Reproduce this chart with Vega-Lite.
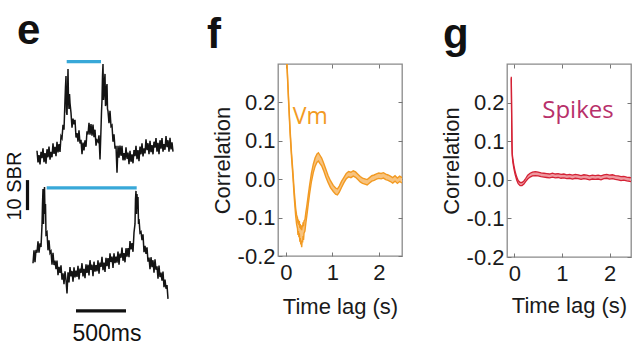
{
  "$schema": "https://vega.github.io/schema/vega-lite/v6.json",
  "padding": {"left": 0, "top": 9, "right": 0, "bottom": 0},
  "background": "white",
  "bounds": "flush",
  "spacing": 105,
  "config": {"font": "Liberation Sans"},
  "datasets": {
    "traces": [
      {"trace":"a","t":370,"v":61.1},{"trace":"a","t":380,"v":57.2},{"trace":"a","t":390,"v":59.6},{"trace":"a","t":400,"v":56.5},{"trace":"a","t":410,"v":60.7},{"trace":"a","t":420,"v":58.6},{"trace":"a","t":430,"v":61.9},{"trace":"a","t":440,"v":57.3},{"trace":"a","t":450,"v":60.3},{"trace":"a","t":460,"v":56.8},{"trace":"a","t":470,"v":61.6},{"trace":"a","t":480,"v":58.9},{"trace":"a","t":490,"v":62.5},{"trace":"a","t":500,"v":58.1},{"trace":"a","t":510,"v":60.7},{"trace":"a","t":520,"v":58.9},{"trace":"a","t":530,"v":63.6},{"trace":"a","t":540,"v":60.0},{"trace":"a","t":550,"v":62.4},{"trace":"a","t":560,"v":59.3},{"trace":"a","t":570,"v":64.1},{"trace":"a","t":580,"v":60.5},{"trace":"a","t":590,"v":63.3},{"trace":"a","t":600,"v":60.7},{"trace":"a","t":610,"v":65.9},{"trace":"a","t":620,"v":65.2},{"trace":"a","t":630,"v":69.7},{"trace":"a","t":640,"v":68.1},{"trace":"a","t":650,"v":78},{"trace":"a","t":655,"v":82.5},{"trace":"a","t":660,"v":86},{"trace":"a","t":665,"v":74},{"trace":"a","t":670,"v":73},{"trace":"a","t":675,"v":80},{"trace":"a","t":680,"v":88.3},{"trace":"a","t":685,"v":78},{"trace":"a","t":690,"v":75},{"trace":"a","t":695,"v":80},{"trace":"a","t":700,"v":77},{"trace":"a","t":710,"v":73.7},{"trace":"a","t":720,"v":68.8},{"trace":"a","t":730,"v":71.8},{"trace":"a","t":740,"v":69.9},{"trace":"a","t":750,"v":71.4},{"trace":"a","t":760,"v":65.5},{"trace":"a","t":770,"v":67.0},{"trace":"a","t":780,"v":64.1},{"trace":"a","t":790,"v":67.9},{"trace":"a","t":800,"v":63.5},{"trace":"a","t":810,"v":64.7},{"trace":"a","t":820,"v":59.9},{"trace":"a","t":830,"v":63.8},{"trace":"a","t":840,"v":61.2},{"trace":"a","t":850,"v":64.6},{"trace":"a","t":860,"v":62.4},{"trace":"a","t":870,"v":67.6},{"trace":"a","t":880,"v":66.5},{"trace":"a","t":890,"v":70.4},{"trace":"a","t":900,"v":66.4},{"trace":"a","t":910,"v":70.0},{"trace":"a","t":920,"v":66.1},{"trace":"a","t":930,"v":69.8},{"trace":"a","t":940,"v":65.6},{"trace":"a","t":950,"v":68.1},{"trace":"a","t":960,"v":62.8},{"trace":"a","t":970,"v":64.6},{"trace":"a","t":980,"v":64.1},{"trace":"a","t":990,"v":66.2},{"trace":"a","t":1000,"v":58.2},{"trace":"a","t":1010,"v":68.3},{"trace":"a","t":1015,"v":74},{"trace":"a","t":1020,"v":78},{"trace":"a","t":1025,"v":86},{"trace":"a","t":1030,"v":90},{"trace":"a","t":1035,"v":78},{"trace":"a","t":1040,"v":80},{"trace":"a","t":1045,"v":84},{"trace":"a","t":1050,"v":86.7},{"trace":"a","t":1055,"v":76},{"trace":"a","t":1060,"v":76.7},{"trace":"a","t":1065,"v":82},{"trace":"a","t":1070,"v":83.3},{"trace":"a","t":1075,"v":75},{"trace":"a","t":1080,"v":74.3},{"trace":"a","t":1090,"v":70.3},{"trace":"a","t":1100,"v":74.4},{"trace":"a","t":1110,"v":69.2},{"trace":"a","t":1120,"v":69.6},{"trace":"a","t":1130,"v":64.1},{"trace":"a","t":1140,"v":66.6},{"trace":"a","t":1150,"v":61.8},{"trace":"a","t":1160,"v":62.7},{"trace":"a","t":1170,"v":53.8},{"trace":"a","t":1180,"v":62.7},{"trace":"a","t":1190,"v":58.8},{"trace":"a","t":1200,"v":62.8},{"trace":"a","t":1210,"v":59.4},{"trace":"a","t":1220,"v":62.7},{"trace":"a","t":1230,"v":57.9},{"trace":"a","t":1240,"v":60.3},{"trace":"a","t":1250,"v":57.9},{"trace":"a","t":1260,"v":62.2},{"trace":"a","t":1270,"v":58.4},{"trace":"a","t":1280,"v":60.5},{"trace":"a","t":1290,"v":56.6},{"trace":"a","t":1300,"v":61.1},{"trace":"a","t":1310,"v":57.4},{"trace":"a","t":1320,"v":59.9},{"trace":"a","t":1330,"v":56.9},{"trace":"a","t":1340,"v":61.3},{"trace":"a","t":1350,"v":59.3},{"trace":"a","t":1360,"v":62.7},{"trace":"a","t":1370,"v":58.3},{"trace":"a","t":1380,"v":61.3},{"trace":"a","t":1390,"v":57.6},{"trace":"a","t":1400,"v":62.5},{"trace":"a","t":1410,"v":59.9},{"trace":"a","t":1420,"v":63.6},{"trace":"a","t":1430,"v":59.2},{"trace":"a","t":1440,"v":61.9},{"trace":"a","t":1450,"v":60.2},{"trace":"a","t":1460,"v":64.9},{"trace":"a","t":1470,"v":61.3},{"trace":"a","t":1480,"v":63.6},{"trace":"a","t":1490,"v":59.9},{"trace":"a","t":1500,"v":64.4},{"trace":"a","t":1510,"v":60.6},{"trace":"a","t":1520,"v":63.0},{"trace":"a","t":1530,"v":59.9},{"trace":"a","t":1540,"v":64.1},{"trace":"a","t":1550,"v":62.1},{"trace":"a","t":1560,"v":65.3},{"trace":"a","t":1570,"v":60.8},{"trace":"a","t":1580,"v":63.7},{"trace":"a","t":1590,"v":59.9},{"trace":"a","t":1600,"v":64.6},{"trace":"a","t":1610,"v":61.8},{"trace":"a","t":1620,"v":65.3},{"trace":"a","t":1630,"v":60.8},{"trace":"a","t":1640,"v":63.3},{"trace":"a","t":1650,"v":61.4},{"trace":"a","t":1660,"v":66.0},{"trace":"a","t":1670,"v":62.3},{"trace":"a","t":1680,"v":64.6},{"trace":"a","t":1690,"v":60.8},{"trace":"a","t":1700,"v":65.4},{"trace":"a","t":1710,"v":61.5},{"trace":"a","t":1720,"v":63.9},{"trace":"a","t":1730,"v":60.8},
      {"trace":"b","t":330,"v":23.6},{"trace":"b","t":340,"v":27.9},{"trace":"b","t":350,"v":23.9},{"trace":"b","t":360,"v":28.1},{"trace":"b","t":370,"v":27.1},{"trace":"b","t":380,"v":30.9},{"trace":"b","t":390,"v":27.1},{"trace":"b","t":400,"v":30.2},{"trace":"b","t":410,"v":29.0},{"trace":"b","t":420,"v":36.2},{"trace":"b","t":425,"v":43.3},{"trace":"b","t":430,"v":48.3},{"trace":"b","t":435,"v":36.7},{"trace":"b","t":440,"v":45},{"trace":"b","t":445,"v":49},{"trace":"b","t":450,"v":40},{"trace":"b","t":455,"v":43.3},{"trace":"b","t":460,"v":33.3},{"trace":"b","t":470,"v":33.9},{"trace":"b","t":480,"v":27.9},{"trace":"b","t":490,"v":31.2},{"trace":"b","t":500,"v":27.0},{"trace":"b","t":510,"v":27.6},{"trace":"b","t":520,"v":23.1},{"trace":"b","t":530,"v":27.1},{"trace":"b","t":540,"v":23.0},{"trace":"b","t":550,"v":24.5},{"trace":"b","t":560,"v":21.6},{"trace":"b","t":570,"v":24.5},{"trace":"b","t":580,"v":19.6},{"trace":"b","t":590,"v":22.4},{"trace":"b","t":600,"v":20.4},{"trace":"b","t":610,"v":22.9},{"trace":"b","t":620,"v":18.1},{"trace":"b","t":630,"v":20.2},{"trace":"b","t":640,"v":16.6},{"trace":"b","t":650,"v":20.9},{"trace":"b","t":660,"v":18.0},{"trace":"b","t":670,"v":13.5},{"trace":"b","t":680,"v":20.6},{"trace":"b","t":690,"v":17.2},{"trace":"b","t":700,"v":22.3},{"trace":"b","t":710,"v":19.2},{"trace":"b","t":720,"v":21.0},{"trace":"b","t":730,"v":17.4},{"trace":"b","t":740,"v":22.2},{"trace":"b","t":750,"v":18.9},{"trace":"b","t":760,"v":21.1},{"trace":"b","t":770,"v":19.0},{"trace":"b","t":780,"v":22.7},{"trace":"b","t":790,"v":18.2},{"trace":"b","t":800,"v":21.8},{"trace":"b","t":810,"v":20.4},{"trace":"b","t":820,"v":23.6},{"trace":"b","t":830,"v":19.2},{"trace":"b","t":840,"v":21.7},{"trace":"b","t":850,"v":18.6},{"trace":"b","t":860,"v":23.2},{"trace":"b","t":870,"v":20.4},{"trace":"b","t":880,"v":23.1},{"trace":"b","t":890,"v":19.5},{"trace":"b","t":900,"v":24.6},{"trace":"b","t":910,"v":21.4},{"trace":"b","t":920,"v":23.1},{"trace":"b","t":930,"v":19.3},{"trace":"b","t":940,"v":24.1},{"trace":"b","t":950,"v":20.8},{"trace":"b","t":960,"v":23.0},{"trace":"b","t":970,"v":20.9},{"trace":"b","t":980,"v":24.6},{"trace":"b","t":990,"v":20.1},{"trace":"b","t":1000,"v":23.8},{"trace":"b","t":1010,"v":22.4},{"trace":"b","t":1020,"v":25.7},{"trace":"b","t":1030,"v":21.3},{"trace":"b","t":1040,"v":23.8},{"trace":"b","t":1050,"v":20.7},{"trace":"b","t":1060,"v":25.4},{"trace":"b","t":1070,"v":22.6},{"trace":"b","t":1080,"v":25.3},{"trace":"b","t":1090,"v":21.7},{"trace":"b","t":1100,"v":26.9},{"trace":"b","t":1110,"v":24.0},{"trace":"b","t":1120,"v":25.8},{"trace":"b","t":1130,"v":22.0},{"trace":"b","t":1140,"v":26.9},{"trace":"b","t":1150,"v":23.6},{"trace":"b","t":1160,"v":25.8},{"trace":"b","t":1170,"v":23.8},{"trace":"b","t":1180,"v":27.5},{"trace":"b","t":1190,"v":23.1},{"trace":"b","t":1200,"v":26.8},{"trace":"b","t":1210,"v":25.4},{"trace":"b","t":1220,"v":28.8},{"trace":"b","t":1230,"v":24.4},{"trace":"b","t":1240,"v":27.0},{"trace":"b","t":1250,"v":23.9},{"trace":"b","t":1260,"v":28.6},{"trace":"b","t":1270,"v":25.8},{"trace":"b","t":1280,"v":28.6},{"trace":"b","t":1290,"v":25.6},{"trace":"b","t":1300,"v":31.0},{"trace":"b","t":1310,"v":28.2},{"trace":"b","t":1320,"v":30.3},{"trace":"b","t":1330,"v":27.4},{"trace":"b","t":1340,"v":33.8},{"trace":"b","t":1350,"v":36.7},{"trace":"b","t":1355,"v":45},{"trace":"b","t":1360,"v":47.7},{"trace":"b","t":1365,"v":40},{"trace":"b","t":1370,"v":46.7},{"trace":"b","t":1375,"v":41.7},{"trace":"b","t":1380,"v":45.7},{"trace":"b","t":1385,"v":36.7},{"trace":"b","t":1390,"v":38.3},{"trace":"b","t":1400,"v":33.7},{"trace":"b","t":1410,"v":34.1},{"trace":"b","t":1420,"v":31.3},{"trace":"b","t":1430,"v":33.2},{"trace":"b","t":1440,"v":27.3},{"trace":"b","t":1450,"v":29.4},{"trace":"b","t":1460,"v":26.7},{"trace":"b","t":1470,"v":28.9},{"trace":"b","t":1480,"v":24.1},{"trace":"b","t":1490,"v":25.5},{"trace":"b","t":1500,"v":21.6},{"trace":"b","t":1510,"v":25.6},{"trace":"b","t":1520,"v":22.3},{"trace":"b","t":1530,"v":24.6},{"trace":"b","t":1540,"v":20.4},{"trace":"b","t":1550,"v":24.9},{"trace":"b","t":1560,"v":21.4},{"trace":"b","t":1570,"v":22.6},{"trace":"b","t":1580,"v":18.4},{"trace":"b","t":1590,"v":22.8},{"trace":"b","t":1600,"v":19.0},{"trace":"b","t":1610,"v":20.5},{"trace":"b","t":1620,"v":17.8},{"trace":"b","t":1630,"v":20.8},{"trace":"b","t":1640,"v":15.6},{"trace":"b","t":1650,"v":18.1},{"trace":"b","t":1660,"v":15.1},{"trace":"b","t":1670,"v":16.3},{"trace":"b","t":1680,"v":11.7}
    ],
    "bars": [
      {"kind":"stim","t1":667,"t2":1010,"v1":90.8,"v2":90.8},
      {"kind":"stim","t1":467,"t2":1367,"v1":48.7,"v2":48.7},
      {"kind":"scale","t1":760,"t2":1260,"v1":7.7,"v2":7.7},
      {"kind":"scale","t1":275,"t2":275,"v1":41.3,"v2":51.3}
    ],
    "vm": [
      {"t":0.00,"lo":0.356,"hi":0.364},{"t":0.03,"lo":0.276,"hi":0.284},{"t":0.06,"lo":0.196,"hi":0.204},{"t":0.09,"lo":0.12,"hi":0.13},{"t":0.12,"lo":0.06,"hi":0.07},{"t":0.15,"lo":0.009,"hi":0.021},{"t":0.18,"lo":-0.048,"hi":-0.032},{"t":0.21,"lo":-0.095,"hi":-0.075},{"t":0.23,"lo":-0.117,"hi":-0.093},{"t":0.25,"lo":-0.129,"hi":-0.101},{"t":0.26,"lo":-0.145,"hi":-0.115},{"t":0.27,"lo":-0.135,"hi":-0.105},{"t":0.28,"lo":-0.151,"hi":-0.119},{"t":0.29,"lo":-0.141,"hi":-0.109},{"t":0.30,"lo":-0.163,"hi":-0.127},{"t":0.31,"lo":-0.153,"hi":-0.117},{"t":0.32,"lo":-0.17,"hi":-0.13},{"t":0.33,"lo":-0.16,"hi":-0.12},{"t":0.34,"lo":-0.177,"hi":-0.133},{"t":0.35,"lo":-0.16,"hi":-0.12},{"t":0.36,"lo":-0.165,"hi":-0.125},{"t":0.37,"lo":-0.148,"hi":-0.112},{"t":0.38,"lo":-0.158,"hi":-0.122},{"t":0.39,"lo":-0.141,"hi":-0.109},{"t":0.41,"lo":-0.135,"hi":-0.105},{"t":0.43,"lo":-0.114,"hi":-0.086},{"t":0.45,"lo":-0.096,"hi":-0.07},{"t":0.48,"lo":-0.067,"hi":-0.043},{"t":0.51,"lo":-0.038,"hi":-0.016},{"t":0.55,"lo":-0.006,"hi":0.016},{"t":0.59,"lo":0.017,"hi":0.039},{"t":0.63,"lo":0.034,"hi":0.056},{"t":0.67,"lo":0.044,"hi":0.066},{"t":0.70,"lo":0.047,"hi":0.069},{"t":0.73,"lo":0.041,"hi":0.063},{"t":0.77,"lo":0.035,"hi":0.055},{"t":0.81,"lo":0.023,"hi":0.043},{"t":0.86,"lo":0.006,"hi":0.026},{"t":0.91,"lo":-0.009,"hi":0.009},{"t":0.96,"lo":-0.022,"hi":-0.004},{"t":1.02,"lo":-0.032,"hi":-0.016},{"t":1.07,"lo":-0.039,"hi":-0.023},{"t":1.11,"lo":-0.041,"hi":-0.025},{"t":1.15,"lo":-0.034,"hi":-0.018},{"t":1.20,"lo":-0.021,"hi":-0.005},{"t":1.25,"lo":-0.009,"hi":0.005},{"t":1.30,"lo":0.001,"hi":0.015},{"t":1.35,"lo":0.006,"hi":0.02},{"t":1.40,"lo":0.004,"hi":0.018},{"t":1.45,"lo":0.008,"hi":0.022},{"t":1.50,"lo":0.005,"hi":0.019},{"t":1.55,"lo":-0.001,"hi":0.013},{"t":1.60,"lo":-0.007,"hi":0.007},{"t":1.65,"lo":-0.011,"hi":0.003},{"t":1.70,"lo":-0.013,"hi":0.001},{"t":1.75,"lo":-0.015,"hi":-0.001},{"t":1.80,"lo":-0.01,"hi":0.004},{"t":1.85,"lo":-0.005,"hi":0.009},{"t":1.90,"lo":-0.003,"hi":0.011},{"t":1.95,"lo":0.0,"hi":0.014},{"t":2.00,"lo":0.002,"hi":0.016},{"t":2.05,"lo":0.001,"hi":0.015},{"t":2.10,"lo":0.003,"hi":0.017},{"t":2.15,"lo":-0.001,"hi":0.013},{"t":2.20,"lo":-0.003,"hi":0.011},{"t":2.25,"lo":-0.006,"hi":0.008},{"t":2.30,"lo":-0.01,"hi":0.004},{"t":2.35,"lo":-0.005,"hi":0.009},{"t":2.40,"lo":-0.011,"hi":0.003},{"t":2.45,"lo":-0.006,"hi":0.008},{"t":2.50,"lo":-0.01,"hi":0.004}
    ],
    "sp": [
      {"t":-0.065,"lo":0.263,"hi":0.267},{"t":-0.055,"lo":0.137,"hi":0.143},{"t":-0.05,"lo":0.087,"hi":0.093},{"t":-0.045,"lo":0.062,"hi":0.068},{"t":-0.03,"lo":0.044,"hi":0.052},{"t":-0.01,"lo":0.029,"hi":0.037},{"t":0.015,"lo":0.014,"hi":0.022},{"t":0.05,"lo":-0.001,"hi":0.007},{"t":0.08,"lo":-0.01,"hi":-0.002},{"t":0.12,"lo":-0.015,"hi":-0.007},{"t":0.16,"lo":-0.015,"hi":-0.007},{"t":0.20,"lo":-0.011,"hi":-0.003},{"t":0.24,"lo":-0.004,"hi":0.004},{"t":0.28,"lo":0.002,"hi":0.012},{"t":0.33,"lo":0.007,"hi":0.017},{"t":0.38,"lo":0.01,"hi":0.02},{"t":0.44,"lo":0.011,"hi":0.021},{"t":0.50,"lo":0.01,"hi":0.02},{"t":0.56,"lo":0.008,"hi":0.018},{"t":0.62,"lo":0.007,"hi":0.017},{"t":0.68,"lo":0.006,"hi":0.016},{"t":0.74,"lo":0.005,"hi":0.015},{"t":0.80,"lo":0.007,"hi":0.017},{"t":0.86,"lo":0.005,"hi":0.015},{"t":0.92,"lo":0.006,"hi":0.016},{"t":0.98,"lo":0.004,"hi":0.014},{"t":1.04,"lo":0.005,"hi":0.015},{"t":1.10,"lo":0.003,"hi":0.013},{"t":1.16,"lo":0.004,"hi":0.014},{"t":1.22,"lo":0.002,"hi":0.012},{"t":1.28,"lo":0.004,"hi":0.014},{"t":1.34,"lo":0.003,"hi":0.013},{"t":1.40,"lo":0.001,"hi":0.011},{"t":1.46,"lo":0.003,"hi":0.013},{"t":1.52,"lo":0.002,"hi":0.012},{"t":1.58,"lo":0.0,"hi":0.01},{"t":1.64,"lo":0.002,"hi":0.012},{"t":1.70,"lo":0.001,"hi":0.011},{"t":1.76,"lo":0.002,"hi":0.012},{"t":1.82,"lo":0.0,"hi":0.01},{"t":1.88,"lo":0.003,"hi":0.013},{"t":1.94,"lo":0.004,"hi":0.014},{"t":2.00,"lo":0.002,"hi":0.012},{"t":2.06,"lo":0.003,"hi":0.013},{"t":2.12,"lo":0.001,"hi":0.011},{"t":2.18,"lo":0.0,"hi":0.01},{"t":2.24,"lo":-0.002,"hi":0.008},{"t":2.30,"lo":-0.001,"hi":0.009},{"t":2.36,"lo":-0.003,"hi":0.007},{"t":2.42,"lo":-0.004,"hi":0.006},{"t":2.45,"lo":-0.005,"hi":0.005}
    ]
  },
  "hconcat": [
    {
      "width": 173,
      "height": 270,
      "view": {"stroke": null},
      "title": {"text": "e", "anchor": "start", "frame": "group", "fontSize": 42, "fontWeight": "bold", "color": "#111111", "dx": 17, "offset": -26, "baseline": "alphabetic"},
      "layer": [
        {
          "data": {"name": "traces"},
          "mark": {"type": "line", "color": "#141414", "strokeWidth": 1.5},
          "encoding": {
            "x": {"field": "t", "type": "quantitative", "scale": {"domain": [0, 1730], "nice": false, "zero": false}, "axis": null},
            "y": {"field": "v", "type": "quantitative", "scale": {"domain": [0, 90], "nice": false, "zero": false}, "axis": null},
            "detail": {"field": "trace", "type": "nominal"}
          }
        },
        {
          "data": {"name": "bars"},
          "mark": {"type": "rule", "strokeWidth": 3.2},
          "encoding": {
            "x": {"field": "t1", "type": "quantitative", "scale": {"domain": [0, 1730], "nice": false, "zero": false}, "axis": null},
            "x2": {"field": "t2"},
            "y": {"field": "v1", "type": "quantitative", "scale": {"domain": [0, 90], "nice": false, "zero": false}, "axis": null},
            "y2": {"field": "v2"},
            "color": {"field": "kind", "type": "nominal", "scale": {"domain": ["stim", "scale"], "range": ["#38A8D8", "#111111"]}, "legend": null}
          }
        },
        {
          "data": {"values": [{"label": "500ms", "t": 1070, "v": 0}]},
          "mark": {"type": "text", "fontSize": 23, "align": "center", "baseline": "middle", "color": "#111111"},
          "encoding": {
            "x": {"field": "t", "type": "quantitative", "scale": {"domain": [0, 1730], "nice": false, "zero": false}, "axis": null},
            "y": {"field": "v", "type": "quantitative", "scale": {"domain": [0, 90], "nice": false, "zero": false}, "axis": null},
            "text": {"field": "label"}
          }
        },
        {
          "data": {"values": [{"label": "10 SBR", "t": 150, "v": 49.3}]},
          "mark": {"type": "text", "fontSize": 20, "align": "center", "baseline": "middle", "angle": 270, "color": "#111111"},
          "encoding": {
            "x": {"field": "t", "type": "quantitative", "scale": {"domain": [0, 1730], "nice": false, "zero": false}, "axis": null},
            "y": {"field": "v", "type": "quantitative", "scale": {"domain": [0, 90], "nice": false, "zero": false}, "axis": null},
            "text": {"field": "label"}
          }
        }
      ]
    },
    {
      "width": 124,
      "height": 192,
      "view": {"stroke": "#8a8a8a", "strokeWidth": 1.3},
      "title": {"text": "f", "anchor": "start", "frame": "group", "fontSize": 42, "fontWeight": "bold", "color": "#111111", "dx": -71, "offset": -26, "baseline": "alphabetic"},
      "data": {"name": "vm"},
      "layer": [
        {
          "mark": {"type": "area", "color": "#F8C37E", "clip": true},
          "encoding": {
            "x": {"field": "t", "type": "quantitative", "scale": {"domain": [-0.17, 2.5], "nice": false, "zero": false},
              "axis": {"orient": "bottom", "values": [0, 1, 2], "format": "d", "tickSize": -4, "tickColor": "#777777", "domain": false, "grid": false, "labelFontSize": 22, "labelColor": "#1a1a1a", "labelPadding": 10, "title": "Time lag (s)", "titleFontSize": 22, "titleFontWeight": "normal", "titleColor": "#1a1a1a", "titlePadding": 13}},
            "y": {"field": "lo", "type": "quantitative", "scale": {"domain": [-0.2, 0.3], "nice": false, "zero": false},
              "axis": {"orient": "left", "values": [-0.2, -0.1, 0, 0.1, 0.2], "labelExpr": "replace(datum.label, '\u2212', '-')", "tickSize": -4, "tickColor": "#777777", "domain": false, "grid": false, "labelFontSize": 22, "labelColor": "#1a1a1a", "labelPadding": 7, "title": "Correlation", "titleFontSize": 22, "titleFontWeight": "normal", "titleColor": "#1a1a1a", "titlePadding": 3}},
            "y2": {"field": "hi"}
          }
        },
        {
          "mark": {"type": "line", "color": "#F29A22", "strokeWidth": 1.4, "clip": true},
          "encoding": {
            "x": {"field": "t", "type": "quantitative", "axis": {"orient": "top", "values": [0, 1, 2], "labels": false, "tickSize": -4, "tickColor": "#777777", "domain": false, "grid": false, "title": null}},
            "y": {"field": "lo", "type": "quantitative", "axis": {"orient": "right", "values": [-0.2, -0.1, 0, 0.1, 0.2], "labels": false, "tickSize": -4, "tickColor": "#777777", "domain": false, "grid": false, "title": null}}
          }
        },
        {
          "mark": {"type": "line", "color": "#F29A22", "strokeWidth": 1.4, "clip": true},
          "encoding": {
            "x": {"field": "t", "type": "quantitative", "axis": null},
            "y": {"field": "hi", "type": "quantitative", "axis": null}
          }
        },
        {
          "data": {"values": [{"label": "Vm", "t": 0.15, "c": 0.143}]},
          "mark": {"type": "text", "font": "Open Sans", "fontSize": 23, "align": "left", "baseline": "alphabetic", "color": "#F29A22"},
          "encoding": {
            "x": {"field": "t", "type": "quantitative", "axis": null},
            "y": {"field": "c", "type": "quantitative", "axis": null},
            "text": {"field": "label"}
          }
        }
      ],
      "resolve": {"axis": {"x": "independent", "y": "independent"}}
    },
    {
      "width": 124,
      "height": 193,
      "view": {"stroke": "#8a8a8a", "strokeWidth": 1.3},
      "title": {"text": "g", "anchor": "start", "frame": "group", "fontSize": 42, "fontWeight": "bold", "color": "#111111", "dx": -64, "offset": -26, "baseline": "alphabetic"},
      "data": {"name": "sp"},
      "layer": [
        {
          "mark": {"type": "area", "color": "#EE9AA0", "clip": true},
          "encoding": {
            "x": {"field": "t", "type": "quantitative", "scale": {"domain": [-0.155, 2.45], "nice": false, "zero": false},
              "axis": {"orient": "bottom", "values": [0, 1, 2], "format": "d", "tickSize": -4, "tickColor": "#777777", "domain": false, "grid": false, "labelFontSize": 22, "labelColor": "#1a1a1a", "labelPadding": 10, "title": "Time lag (s)", "titleFontSize": 22, "titleFontWeight": "normal", "titleColor": "#1a1a1a", "titlePadding": 11}},
            "y": {"field": "lo", "type": "quantitative", "scale": {"domain": [-0.2, 0.3], "nice": false, "zero": false},
              "axis": {"orient": "left", "values": [-0.2, -0.1, 0, 0.1, 0.2], "labelExpr": "replace(datum.label, '\u2212', '-')", "tickSize": -4, "tickColor": "#777777", "domain": false, "grid": false, "labelFontSize": 22, "labelColor": "#1a1a1a", "labelPadding": 7, "title": "Correlation", "titleFontSize": 22, "titleFontWeight": "normal", "titleColor": "#1a1a1a", "titlePadding": 3}},
            "y2": {"field": "hi"}
          }
        },
        {
          "mark": {"type": "line", "color": "#D42235", "strokeWidth": 1.3, "clip": true},
          "encoding": {
            "x": {"field": "t", "type": "quantitative", "axis": {"orient": "top", "values": [0, 1, 2], "labels": false, "tickSize": -4, "tickColor": "#777777", "domain": false, "grid": false, "title": null}},
            "y": {"field": "lo", "type": "quantitative", "axis": {"orient": "right", "values": [-0.2, -0.1, 0, 0.1, 0.2], "labels": false, "tickSize": -4, "tickColor": "#777777", "domain": false, "grid": false, "title": null}}
          }
        },
        {
          "mark": {"type": "line", "color": "#D42235", "strokeWidth": 1.3, "clip": true},
          "encoding": {
            "x": {"field": "t", "type": "quantitative", "axis": null},
            "y": {"field": "hi", "type": "quantitative", "axis": null}
          }
        },
        {
          "data": {"values": [{"label": "Spikes", "t": 0.585, "c": 0.159}]},
          "mark": {"type": "text", "font": "Open Sans", "fontSize": 24, "align": "left", "baseline": "alphabetic", "color": "#B8306A"},
          "encoding": {
            "x": {"field": "t", "type": "quantitative", "axis": null},
            "y": {"field": "c", "type": "quantitative", "axis": null},
            "text": {"field": "label"}
          }
        }
      ],
      "resolve": {"axis": {"x": "independent", "y": "independent"}}
    }
  ]
}
